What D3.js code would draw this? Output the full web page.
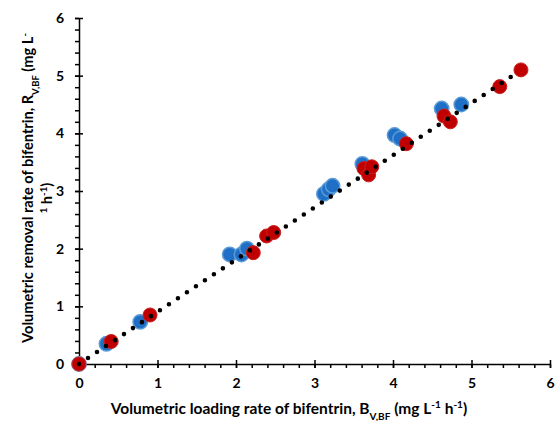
<!DOCTYPE html>
<html>
<head>
<meta charset="utf-8">
<script src="https://cdn.jsdelivr.net/npm/d3@7"></script>
<style>
  body { margin: 0; background: #fff; }
  text { font-family: Lato, "Open Sans", sans-serif; font-weight: bold; fill: #000; }
</style>
</head>
<body>
<div id="chart"></div>
<script>
// series
var blueX = [0, 0.35, 0.78, 1.92, 2.07, 2.14, 3.12, 3.18, 3.23, 3.61, 4.02, 4.09, 4.62, 4.87];
var blueY = [0, 0.35, 0.73, 1.90, 1.90, 2.00, 2.95, 3.03, 3.09, 3.47, 3.97, 3.91, 4.43, 4.50];
var redX = [0, 0.41, 0.905, 2.22, 2.39, 2.48, 3.63, 3.69, 3.73, 4.17, 4.65, 4.73, 5.36, 5.63];
var redY = [0, 0.39, 0.85, 1.93, 2.22, 2.28, 3.39, 3.28, 3.42, 3.82, 4.30, 4.20, 4.81, 5.10];
var trendX = [0, 5.55];
var trendSlope = 0.905;
var tickValues = [0, 1, 2, 3, 4, 5, 6];

var margin = {top: 18, right: 5, bottom: 57, left: 79},
  width = 555 - margin.left - margin.right,
  height = 421 - margin.top - margin.bottom;

var svg = d3.select("#chart")
.append("svg")
  .attr("width", 555)
  .attr("height", 421)
.append("g")
  .attr("transform", "translate(" + margin.left + "," + margin.top + ")");

var x = d3.scaleLinear().domain([0, 6]).range([0, 471]);
var y = d3.scaleLinear().domain([0, 6]).range([height, 0]);

// minor ticks
var minor = d3.range(0, 6.01, 0.2);
svg.append("g")
  .attr("transform", "translate(0," + height + ")")
  .call(d3.axisBottom(x).tickValues(minor).tickSize(4).tickFormat(""))
  .call(g => g.select(".domain").remove());
svg.append("g")
  .call(d3.axisLeft(y).tickValues(minor).tickSize(4).tickFormat(""))
  .call(g => g.select(".domain").remove());

// major axes
var xAxis = svg.append("g")
  .attr("transform", "translate(0," + height + ")")
  .call(d3.axisBottom(x).tickValues(tickValues).tickSize(4).tickSizeOuter(0).tickPadding(10).tickFormat(d3.format("d")));
xAxis.selectAll(".tick line").attr("y1", -4);
var yAxis = svg.append("g")
  .call(d3.axisLeft(y).tickValues(tickValues).tickSize(4).tickSizeOuter(0).tickPadding(11).tickFormat(d3.format("d")));
yAxis.selectAll(".tick line").attr("x1", 4);
svg.selectAll(".tick text").style("font-size", "14px").style("font-family", "Lato, sans-serif").style("font-weight", "bold");
svg.selectAll(".domain, .tick line").attr("stroke", "#000").attr("stroke-width", 1.5);

// markers
svg.append("g").selectAll("circle")
  .data(blueX.map((d, i) => [d, blueY[i]]))
  .enter().append("circle")
  .attr("cx", d => x(d[0]))
  .attr("cy", d => y(d[1]))
  .attr("r", 7.2)
  .style("fill", "#1f6fc6")
  .style("stroke", "#5b9bd5")
  .style("stroke-width", 1.5);

svg.append("g").selectAll("circle")
  .data(redX.map((d, i) => [d, redY[i]]))
  .enter().append("circle")
  .attr("cx", d => x(d[0]))
  .attr("cy", d => y(d[1]))
  .attr("r", 7)
  .style("fill", "#c00000")
  .style("stroke", "#c9211e")
  .style("stroke-width", 1);

// trendline
svg.append("path")
  .datum(trendX)
  .attr("d", d3.line().x(d => x(d)).y(d => y(d * trendSlope)))
  .style("fill", "none")
  .style("stroke", "#000")
  .style("stroke-width", 4.6)
  .style("stroke-linecap", "round")
  .style("stroke-dasharray", "0 10.8");

// x title
var xt = svg.append("text")
  .attr("x", 210)
  .attr("y", 396)
  .attr("text-anchor", "middle")
  .style("font-size", "15.5px");
xt.append("tspan").text("Volumetric loading rate of bifentrin, B");
xt.append("tspan").attr("baseline-shift", "sub").style("font-size", "10px").text("V,BF");
xt.append("tspan").text(" (mg L");
xt.append("tspan").attr("baseline-shift", "super").style("font-size", "10px").text("-1");
xt.append("tspan").text(" h");
xt.append("tspan").attr("baseline-shift", "super").style("font-size", "10px").text("-1");
xt.append("tspan").text(")");

// y title, two lines
var yt1 = svg.append("text")
  .attr("transform", "translate(-46,170) rotate(-90)")
  .attr("text-anchor", "middle")
  .style("font-size", "14.6px");
yt1.append("tspan").text("Volumetric removal rate of bifentrin, R");
yt1.append("tspan").attr("baseline-shift", "sub").style("font-size", "9.5px").text("V,BF");
yt1.append("tspan").text("  (mg L");
yt1.append("tspan").attr("baseline-shift", "super").style("font-size", "9.5px").text("-");

var yt2 = svg.append("text")
  .attr("transform", "translate(-27,180) rotate(-90)")
  .attr("text-anchor", "middle")
  .style("font-size", "14.6px");
yt2.append("tspan").attr("baseline-shift", "super").style("font-size", "9.5px").text("1");
yt2.append("tspan").text(" h");
yt2.append("tspan").attr("baseline-shift", "super").style("font-size", "9.5px").text("-1");
yt2.append("tspan").text(")");
</script>
</body>
</html>
